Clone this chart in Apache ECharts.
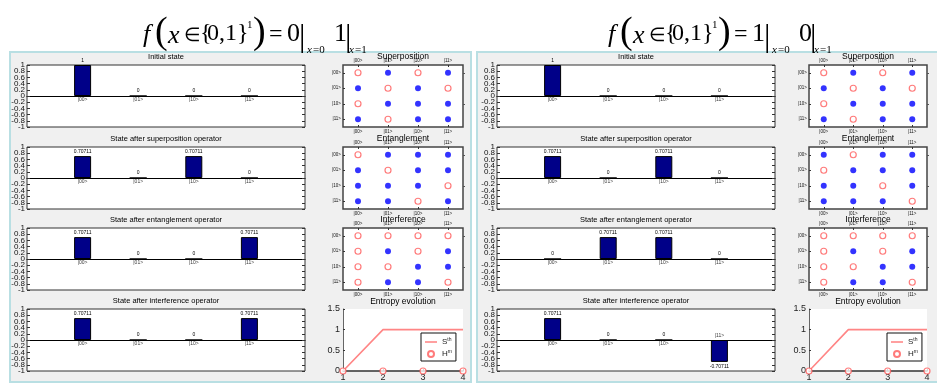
<!DOCTYPE html>
<html><head><meta charset="utf-8">
<script src="https://cdn.jsdelivr.net/npm/echarts@6/dist/echarts.min.js"></script>
<style>html,body{margin:0;padding:0;background:#fff}#c{width:937px;height:385px}</style>
</head><body><div id="c"></div>
<script>
// ---------- data ----------
const kets = ['|00>', '|01>', '|10>', '|11>'];
const barTitles = ['Initial state', 'State after superposition operator', 'State after entanglement operator', 'State after interference operator'];
const mapTitles = ['Superposition', 'Entanglement', 'Interference'];
const entropyTitle = 'Entropy evolution';
const barYTicks = [-1, 1, 0.2];       // min, max, step
const entropyYTicks = [0, 1.5, 0.5];
const entropySteps = [1, 2, 3, 4];

// case A : f = 0|x=0 1|x=1
const aFormulaValues = ['0', '1'];
const aInitial = [1, 0, 0, 0];
const aSuperposition = [0.70711, 0, 0.70711, 0];
const aEntanglement = [0.70711, 0, 0, 0.70711];
const aInterference = [0.70711, 0, 0, 0.70711];
// operator maps: 1 = open red circle, 0 = filled blue dot (rows |00>..|11>)
const aSuperMap = [[1,0,1,0],[0,1,0,1],[1,0,0,0],[0,1,0,0]];
const aEntMap   = [[1,0,0,0],[0,1,0,0],[0,0,0,1],[0,0,1,0]];
const aIntMap   = [[1,1,1,1],[1,0,1,0],[1,1,0,0],[1,0,0,1]];
const aSth = [0, 1, 1, 1];
const aHm  = [0, 0, 0, 0];

// case B : f = 1|x=0 0|x=1
const bFormulaValues = ['1', '0'];
const bInitial = [1, 0, 0, 0];
const bSuperposition = [0.70711, 0, 0.70711, 0];
const bEntanglement = [0, 0.70711, 0.70711, 0];
const bInterference = [0.70711, 0, 0, -0.70711];
const bSuperMap = [[1,0,1,0],[0,1,0,1],[1,0,0,0],[0,1,0,0]];
const bEntMap   = [[0,1,0,0],[1,0,0,0],[0,0,1,0],[0,0,0,1]];
const bIntMap   = [[1,1,1,1],[1,0,1,0],[1,1,0,0],[1,0,0,1]];
const bSth = [0, 1, 1, 1];
const bHm  = [0, 0, 0, 0];

// ---------- layout ----------
const SANS = '"Liberation Sans", Arial, sans-serif';
const SERIF = '"Liberation Serif", "Times New Roman", serif';
const rowTops = [65, 147, 228, 309];
const rowH = 62;
const panels = [
  { fx: 0, barLeft: 27, barW: 278, mapLeft: 343, mapW: 120, legLeft: 421,
    formula: aFormulaValues, states: [aInitial, aSuperposition, aEntanglement, aInterference],
    maps: [aSuperMap, aEntMap, aIntMap], sth: aSth, hm: aHm,
    rect: [10, 52, 461, 330] },
  { fx: 465, barLeft: 497, barW: 278, mapLeft: 809, mapW: 118, legLeft: 887,
    formula: bFormulaValues, states: [bInitial, bSuperposition, bEntanglement, bInterference],
    maps: [bSuperMap, bEntMap, bIntMap], sth: bSth, hm: bHm,
    rect: [477, 52, 470, 330] }
];

const grids = [], xAxes = [], yAxes = [], series = [], graphics = [], legends = [];

function txt(text, x, y, font, align, valign, z) {
  return { type: 'text', x: x, y: y, z: z || 50, silent: true,
    style: { text: text, font: font, fill: '#000', align: align || 'left', verticalAlign: valign || 'middle',
             textAlign: align || 'left', textVerticalAlign: valign || 'middle' } };
}

function formula(ox, vals) {
  const it = s => 'italic ' + s + 'px ' + SERIF;
  const no = s => s + 'px ' + SERIF;
  const parts = [
    ['f', 143, 35, it(26)], ['(', 155, 33, no(38)], ['x', 168, 36, it(26)], ['\u2208', 184, 36, no(19)],
    ['{', 200, 34, no(24)], ['0,1', 207, 34, no(24)], ['}', 237, 34, no(24)], ['1', 247, 25, no(11)],
    [')', 253, 33, no(38)], ['=', 269, 35, no(24)],
    [vals[0], 287, 34, no(26)], ['|', 299, 38, no(32)], ['x', 307, 50, it(11)], ['=0', 313, 50, no(11)],
    [vals[1], 334, 34, no(26)], ['|', 345, 38, no(32)], ['x', 349, 50, it(11)], ['=1', 355, 50, no(11)]
  ];
  parts.forEach(p => graphics.push(txt(p[0], ox + p[1], p[2], p[3])));
}

const fmt = v => String(Math.round(v * 10) / 10);
const isEdgeNeighbour = v => Math.abs(Math.abs(v) - 0.8) < 1e-6;

panels.forEach((P, pi) => {
  graphics.push({ type: 'rect', z: -100, silent: true,
    shape: { x: P.rect[0], y: P.rect[1], width: P.rect[2], height: P.rect[3] },
    style: { fill: '#f0f0f0', stroke: '#b9dfe3', lineWidth: 2 } });
  formula(P.fx, P.formula);

  // ---- state bar charts ----
  P.states.forEach((vals, r) => {
    const gi = grids.length;
    grids.push({ left: P.barLeft, top: rowTops[r], width: P.barW, height: rowH, show: true,
      backgroundColor: '#fff', borderColor: '#333', borderWidth: 1, outerBoundsMode: 'none', containLabel: false });
    graphics.push(txt(barTitles[r], P.barLeft + P.barW / 2, rowTops[r] - 8, '7.5px ' + SANS, 'center'));
    const xi = xAxes.length;
    xAxes.push({ gridIndex: gi, type: 'value', min: 0, max: 5, axisLabel: { show: false }, axisTick: { show: false },
      splitLine: { show: false }, axisLine: { show: true, onZero: true, lineStyle: { color: '#000', width: 1 } } });
    const yi = yAxes.length;
    const labelStyle = { show: true, fontSize: 8, color: '#111', fontFamily: SANS, margin: 2 };
    yAxes.push({ gridIndex: gi, type: 'value', min: barYTicks[0], max: barYTicks[1], interval: barYTicks[2],
      position: 'left', splitLine: { show: false }, axisLine: { show: false },
      axisTick: { show: true, inside: true, length: 3, lineStyle: { color: '#333' } },
      axisLabel: Object.assign({}, labelStyle, { showMinLabel: true, showMaxLabel: true,
        formatter: v => isEdgeNeighbour(v) ? '' : fmt(v) }) });
    yAxes.push({ gridIndex: gi, type: 'value', min: barYTicks[0], max: barYTicks[1], interval: barYTicks[2],
      position: 'left', splitLine: { show: false }, axisLine: { show: false },
      axisTick: { show: true, inside: true, length: 3, lineStyle: { color: '#333' } },
      axisLabel: Object.assign({}, labelStyle, { showMinLabel: false, showMaxLabel: false,
        formatter: v => isEdgeNeighbour(v) ? fmt(v) : '' }) });
    yAxes.push({ gridIndex: gi, type: 'value', min: barYTicks[0], max: barYTicks[1], interval: barYTicks[2],
      position: 'right', splitLine: { show: false }, axisLine: { show: false }, axisLabel: { show: false },
      axisTick: { show: true, inside: true, length: 3, lineStyle: { color: '#333' } } });
    series.push({ type: 'bar', xAxisIndex: xi, yAxisIndex: yi, barWidth: 17, silent: true,
      data: vals.map((v, i) => ({ value: [i + 1, v], label: { position: v < 0 ? 'bottom' : 'top' } })),
      itemStyle: { color: '#000088', borderColor: '#000', borderWidth: 1 },
      label: { show: true, fontSize: 5, color: '#000', fontFamily: SANS, distance: 2,
        formatter: p => String(vals[p.dataIndex]) } });
    series.push({ type: 'scatter', xAxisIndex: xi, yAxisIndex: yi, symbolSize: 1, silent: true,
      itemStyle: { color: 'rgba(0,0,0,0)' },
      data: vals.map((v, i) => ({ value: [i + 1, 0], label: { position: v < 0 ? 'top' : 'bottom' } })),
      label: { show: true, fontSize: 5, color: '#000', fontFamily: SANS, distance: 1,
        formatter: p => kets[p.dataIndex] } });
  });

  // ---- operator maps ----
  P.maps.forEach((M, r) => {
    const gi = grids.length;
    grids.push({ left: P.mapLeft, top: rowTops[r], width: P.mapW, height: rowH, show: true,
      backgroundColor: '#fff', borderColor: '#444', borderWidth: 1.5, outerBoundsMode: 'none', containLabel: false });
    graphics.push(txt(mapTitles[r], P.mapLeft + P.mapW / 2, rowTops[r] - 8, '8.5px ' + SANS, 'center'));
    const catAxis = pos => ({ gridIndex: gi, type: 'category', data: kets, position: pos,
      axisLine: { show: false }, splitLine: { show: false },
      axisTick: { show: true, inside: true, length: 2, alignWithLabel: true, lineStyle: { color: '#333' } },
      axisLabel: { show: true, fontSize: 4.5, color: '#111', fontFamily: SANS, margin: 2, interval: 0 } });
    const xi = xAxes.length;
    xAxes.push(catAxis('bottom'));
    xAxes.push(catAxis('top'));
    const yi = yAxes.length;
    yAxes.push(Object.assign(catAxis('left'), { inverse: true }));
    const yr = Object.assign(catAxis('right'), { inverse: true });
    yr.axisLabel = { show: false };
    yr.axisTick = { show: true, inside: false, length: 2, alignWithLabel: true, lineStyle: { color: '#555' } };
    yAxes.push(yr);
    const red = [], blue = [];
    M.forEach((row, ri) => row.forEach((v, ci) => (v ? red : blue).push([ci, ri])));
    series.push({ type: 'scatter', xAxisIndex: xi, yAxisIndex: yi, data: red, symbol: 'circle', symbolSize: 6, silent: true,
      itemStyle: { color: '#fff', borderColor: '#ff5a5a', borderWidth: 1.2 } });
    series.push({ type: 'scatter', xAxisIndex: xi, yAxisIndex: yi, data: blue, symbol: 'circle', symbolSize: 6, silent: true,
      itemStyle: { color: '#0000ff' } });
  });

  // ---- entropy ----
  {
    const gi = grids.length;
    grids.push({ left: P.mapLeft, top: rowTops[3], width: P.mapW, height: rowH, show: true,
      backgroundColor: '#fff', borderWidth: 0, outerBoundsMode: 'none', containLabel: false });
    graphics.push(txt(entropyTitle, P.mapLeft + P.mapW / 2, rowTops[3] - 7, '8.5px ' + SANS, 'center'));
    const xi = xAxes.length;
    xAxes.push({ gridIndex: gi, type: 'value', min: entropySteps[0], max: entropySteps[entropySteps.length - 1], interval: 1,
      splitLine: { show: false }, axisLine: { show: true, lineStyle: { color: '#333', width: 1.5 } },
      axisTick: { show: true, inside: true, length: 2, lineStyle: { color: '#333' } },
      axisLabel: { fontSize: 9, color: '#222', fontFamily: SANS, margin: 2 } });
    const yi = yAxes.length;
    yAxes.push({ gridIndex: gi, type: 'value', min: entropyYTicks[0], max: entropyYTicks[1], interval: entropyYTicks[2],
      splitLine: { show: false }, axisLine: { show: true, lineStyle: { color: '#666', width: 1 } },
      axisTick: { show: true, inside: true, length: 2, lineStyle: { color: '#333' } },
      axisLabel: { fontSize: 9, color: '#222', fontFamily: SANS, margin: 3 } });
    series.push({ type: 'line', name: 'Sth', xAxisIndex: xi, yAxisIndex: yi, symbol: 'none', silent: true,
      lineStyle: { color: '#ff8585', width: 1.6 }, itemStyle: { color: '#ff8585' },
      data: entropySteps.map((s, i) => [s, P.sth[i]]) });
    series.push({ type: 'scatter', name: 'Hm', xAxisIndex: xi, yAxisIndex: yi, symbol: 'circle', symbolSize: 6,
      clip: false, silent: true, z: 5,
      itemStyle: { color: '#fff', borderColor: '#ff5a5a', borderWidth: 1.2 },
      data: entropySteps.map((s, i) => [s, P.hm[i]]) });
    legends.push({ left: P.legLeft, top: 333, orient: 'vertical', selectedMode: false,
      data: [{ name: 'Sth', icon: 'path://M0,0H10V1.3H0Z', itemStyle: { color: '#ff8585' } },
             { name: 'Hm', icon: 'emptyCircle', itemStyle: { color: '#ff5a5a', borderColor: '#ff5a5a', borderWidth: 1.2 } }],
      itemWidth: 12, itemHeight: 6, itemGap: 3, padding: [4, 4, 3, 4], symbolKeepAspect: true,
      borderColor: '#111', borderWidth: 1, backgroundColor: '#fff',
      formatter: n => n === 'Sth' ? 'S{s|th}' : 'H{s|m}',
      textStyle: { fontSize: 8, color: '#222', fontFamily: SANS, padding: [0, 0, 0, 0],
        rich: { s: { fontSize: 5, color: '#222', fontFamily: SANS, verticalAlign: 'top', padding: [0, 0, 5, 0] } } } });
  }
});

const chart = echarts.init(document.getElementById('c'), null, { renderer: 'canvas' });
chart.setOption({
  animation: false,
  backgroundColor: '#fff',
  grid: grids, xAxis: xAxes, yAxis: yAxes, series: series, legend: legends,
  graphic: { elements: graphics }
});
</script></body></html>
